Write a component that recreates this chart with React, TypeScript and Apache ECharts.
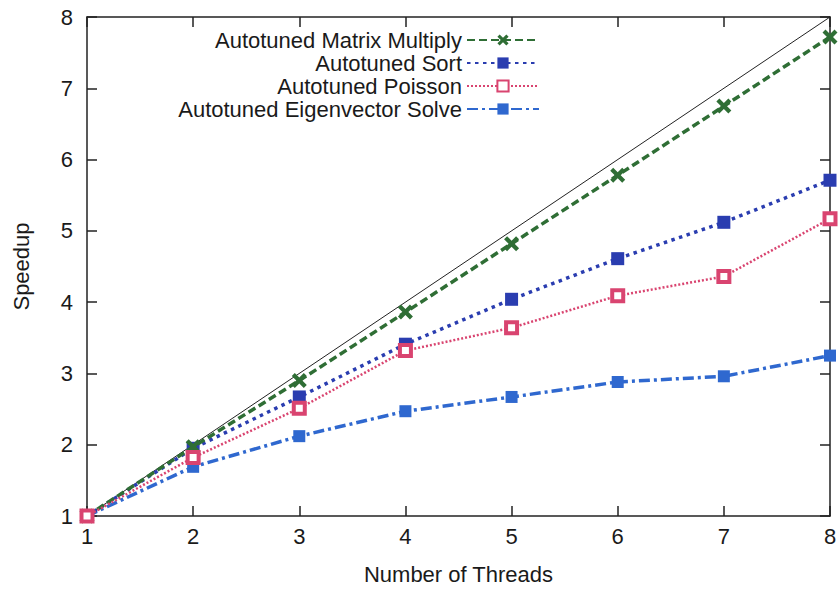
import React, { useEffect, useRef } from "react";
import * as echarts from "echarts";

const threads = [1, 2, 3, 4, 5, 6, 7, 8];
const matrixMultiply = [1, 1.97, 2.9, 3.86, 4.82, 5.78, 6.75, 7.72];
const sortSpeedup = [1, 1.95, 2.67, 3.41, 4.04, 4.61, 5.12, 5.71];
const poissonSpeedup = [1, 1.82, 2.51, 3.32, 3.64, 4.09, 4.36, 5.17];
const eigenSpeedup = [1, 1.69, 2.12, 2.47, 2.67, 2.88, 2.96, 3.25];
const idealLine = [1, 8];
const seriesNames = [
  "Autotuned Matrix Multiply",
  "Autotuned Sort",
  "Autotuned Poisson",
  "Autotuned Eigenvector Solve",
];

const FONT = "Liberation Sans, Arial, Helvetica, sans-serif";
const FS = 22;
const CROSS =
  "path://M0,2 L2,0 L5,3 L8,0 L10,2 L7,5 L10,8 L8,10 L5,7 L2,10 L0,8 L3,5 Z";

export default function App() {
  const ref = useRef<HTMLDivElement>(null);
  useEffect(() => {
    document.body.style.margin = "0";
    if (!ref.current) return;
    const chart = echarts.init(ref.current, undefined, { renderer: "svg" });
    const pair = (vals: number[]) => threads.map((t, i) => [t, vals[i]]);
    const axisLine = { show: true, lineStyle: { color: "#222", width: 1.5 } };
    const tick = { show: true, inside: true, length: 10, lineStyle: { color: "#222", width: 1.5 } };
    chart.setOption({
      animation: false,
      backgroundColor: "#fff",
      textStyle: { fontFamily: FONT },
      grid: { left: 87, right: 10, top: 17, bottom: 68, containLabel: false },
      legend: {
        data: seriesNames,
        orient: "vertical",
        align: "right",
        right: 300,
        top: 29,
        padding: 0,
        itemGap: 1,
        itemWidth: 72,
        itemHeight: 14,
        textStyle: { fontSize: FS, lineHeight: 22, color: "#1a1a1a", fontFamily: FONT },
      },
      xAxis: [
        {
          type: "value",
          min: 1,
          max: 8,
          interval: 1,
          name: "Number of Threads",
          nameLocation: "middle",
          nameGap: 47,
          nameTextStyle: { fontSize: FS, color: "#1a1a1a", fontFamily: FONT },
          axisLine,
          axisTick: tick,
          splitLine: { show: false },
          axisLabel: { fontSize: FS, color: "#1a1a1a", margin: 9, fontFamily: FONT },
        },
        {
          type: "value",
          position: "top",
          min: 1,
          max: 8,
          interval: 1,
          axisLine,
          axisTick: tick,
          splitLine: { show: false },
          axisLabel: { show: false },
        },
      ],
      yAxis: [
        {
          type: "value",
          min: 1,
          max: 8,
          interval: 1,
          name: "Speedup",
          nameLocation: "middle",
          nameGap: 55,
          nameTextStyle: { fontSize: FS, color: "#1a1a1a", fontFamily: FONT },
          axisLine,
          axisTick: tick,
          splitLine: { show: false },
          axisLabel: { fontSize: FS, color: "#1a1a1a", margin: 14, fontFamily: FONT },
        },
        {
          type: "value",
          position: "right",
          min: 1,
          max: 8,
          interval: 1,
          axisLine,
          axisTick: tick,
          splitLine: { show: false },
          axisLabel: { show: false },
        },
      ],
      series: [
        {
          name: "ideal",
          type: "line",
          data: idealLine.map((v) => [v, v]),
          symbol: "none",
          lineStyle: { color: "#222", width: 1 },
          silent: true,
          z: 1,
        },
        {
          name: seriesNames[0],
          type: "line",
          data: pair(matrixMultiply),
          symbol: CROSS,
          symbolSize: 15,
          itemStyle: { color: "#2f6e35" },
          lineStyle: { color: "#2f6e35", width: 3.5, type: [8, 4] },
          z: 5,
        },
        {
          name: seriesNames[1],
          type: "line",
          data: pair(sortSpeedup),
          symbol: "rect",
          symbolSize: 13,
          itemStyle: { color: "#2a3db0" },
          lineStyle: { color: "#2a3db0", width: 3.5, type: [3.5, 4.5] },
          z: 4,
        },
        {
          name: seriesNames[2],
          type: "line",
          data: pair(poissonSpeedup),
          symbol: "rect",
          symbolSize: 11,
          itemStyle: { color: "#fff", borderColor: "#d94470", borderWidth: 4 },
          lineStyle: { color: "#d94470", width: 2.5, type: [2, 2] },
          z: 6,
        },
        {
          name: seriesNames[3],
          type: "line",
          data: pair(eigenSpeedup),
          symbol: "rect",
          symbolSize: 12,
          itemStyle: { color: "#2f68cf" },
          lineStyle: { color: "#2f68cf", width: 3.5, type: [11, 4, 3, 4] },
          z: 3,
        },
      ],
    });
    return () => chart.dispose();
  }, []);
  return <div ref={ref} style={{ width: 840, height: 590 }} />;
}
